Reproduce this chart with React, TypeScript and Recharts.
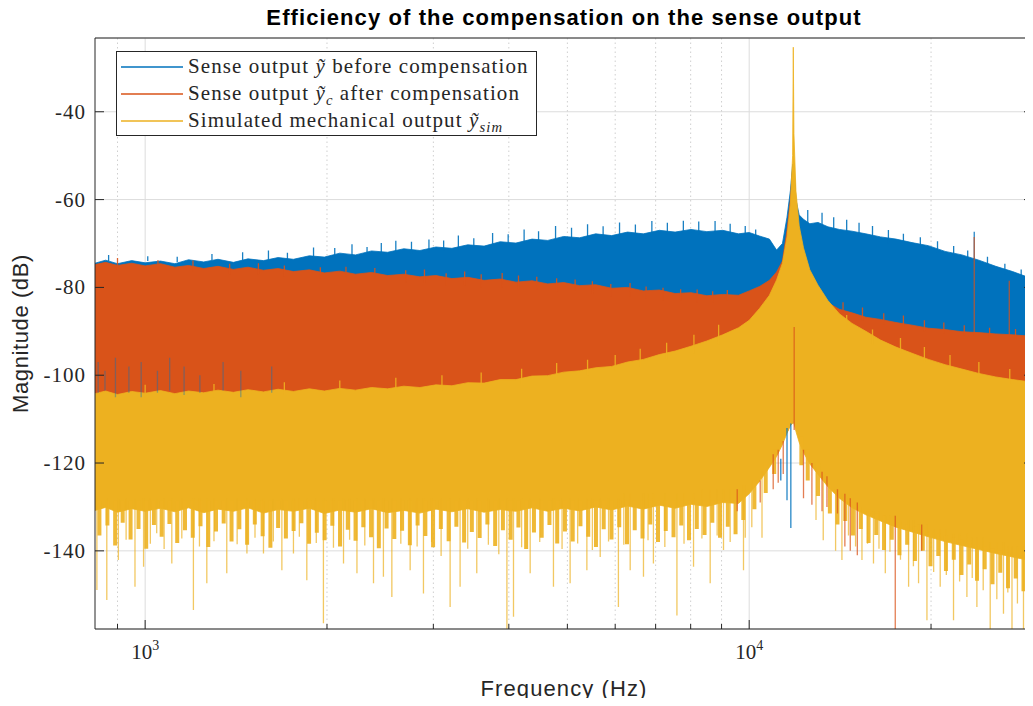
import React from 'react';
import { ComposedChart, Area, Line, XAxis, YAxis, CartesianGrid, Legend, Label, ReferenceLine } from 'recharts';

// frequency grid (Hz) of the envelope bands
const freq = [
  826, 860, 900, 950, 1000,
  1060, 1120, 1180, 1250, 1320,
  1400, 1480, 1570, 1660, 1760,
  1870, 1980, 2100, 2230, 2370,
  2520, 2680, 2850, 3030, 3220,
  3420, 3640, 3870, 4110, 4370,
  4640, 4930, 5240, 5570, 5920,
  6290, 6680, 7100, 7540, 8010,
  8510, 9040, 9600, 10000, 10400,
  10800, 11100, 11350, 11550, 11700,
  11800, 11830, 11860, 11950, 12100,
  12300, 12600, 13000, 13500, 14100,
  14800, 15600, 16500, 17500, 18600,
  19800, 21100, 22500, 24000, 25600,
  27300, 29100, 29500,
];

// sense output before compensation (dB), upper / lower envelope
const blueHi = [
  -74.5, -73.8, -74.6, -73.9, -74.4,
  -74.0, -74.6, -73.7, -74.2, -73.6,
  -74.3, -73.5, -73.9, -73.2, -73.6,
  -72.8, -73.1, -72.2, -72.6, -71.7,
  -72.0, -71.2, -71.6, -70.8, -71.1,
  -70.3, -70.6, -69.6, -69.9, -69.0,
  -69.3, -68.4, -68.7, -67.8, -68.2,
  -67.4, -67.8, -67.0, -67.4, -66.8,
  -67.3, -67.0, -67.8, -67.5, -68.3,
  -69.0, -71.5, -70.0, -64.0, -58.0,
  -52.0, -52.0, -52.0, -60.0, -63.5,
  -64.5, -65.5, -65.2, -66.2, -66.8,
  -67.2, -67.8, -68.5, -69.0, -69.8,
  -70.5, -71.8, -72.6, -73.8, -75.2,
  -76.4, -77.8, -77.6,
];
const blueLo = [
  -105.2, -104.6, -105.6, -104.8, -105.3,
  -104.5, -105.5, -104.9, -105.4, -104.7,
  -105.6, -105.0, -105.8, -105.1, -105.9,
  -105.3, -106.0, -105.4, -106.2, -105.5,
  -106.3, -105.8, -106.5, -105.9, -106.6,
  -106.0, -106.8, -106.2, -107.0, -106.4,
  -107.1, -106.6, -107.3, -106.8, -107.5,
  -107.0, -107.7, -107.2, -107.9, -107.4,
  -108.0, -107.6, -108.4, -110.0, -113.0,
  -115.5, -117.0, -114.0, -113.0, -111.2,
  -110.8, -110.6, -110.8, -112.0, -113.5,
  -115.0, -117.5, -119.0, -121.0, -120.0,
  -118.0, -116.0, -114.0, -112.5, -111.0,
  -110.0, -109.0, -108.0, -107.5, -107.0,
  -106.5, -106.0, -106.0,
];

// sense output after compensation (dB)
const orangeHi = [
  -74.8, -74.3, -75.0, -74.5, -75.1,
  -74.6, -75.4, -75.0, -75.7, -75.2,
  -75.9, -75.4, -76.1, -75.7, -76.4,
  -76.0, -76.7, -76.3, -77.0, -76.6,
  -77.3, -77.0, -77.6, -77.3, -78.0,
  -77.7, -78.4, -78.1, -78.8, -78.5,
  -79.2, -78.9, -79.6, -79.4, -80.2,
  -80.0, -80.8, -80.6, -81.4, -81.2,
  -81.9, -81.6, -81.8, -80.8, -79.8,
  -78.4, -76.5, -74.0, -67.0, -60.0,
  -53.0, -53.0, -53.0, -61.0, -68.0,
  -73.0, -77.5, -80.5, -83.5, -85.0,
  -85.8, -86.8, -87.3, -88.0, -88.6,
  -89.3, -89.6, -90.1, -90.3, -90.6,
  -90.8, -91.1, -91.0,
];
const orangeLo = [
  -108.6, -107.9, -109.2, -108.1, -108.8,
  -107.7, -109.0, -108.3, -108.9, -107.8,
  -108.7, -108.0, -109.1, -108.2, -108.6,
  -107.9, -108.8, -108.1, -108.7, -107.8,
  -108.5, -107.9, -108.6, -107.6, -108.3,
  -107.5, -108.2, -107.4, -108.0, -107.2,
  -107.8, -107.0, -107.6, -106.8, -107.3,
  -106.5, -107.0, -106.2, -106.6, -105.8,
  -106.2, -105.4, -107.0, -110.0, -113.0,
  -115.5, -117.0, -114.0, -113.0, -111.2,
  -110.8, -110.6, -110.8, -112.0, -113.5,
  -115.0, -117.5, -119.0, -121.0, -120.0,
  -118.0, -116.0, -114.0, -112.5, -111.0,
  -110.0, -109.0, -108.0, -107.5, -107.0,
  -106.5, -106.0, -106.0,
];

// simulated mechanical output (dB)
const yellowHi = [
  -104.2, -103.6, -104.4, -103.7, -104.1,
  -103.5, -104.2, -103.6, -104.0, -103.4,
  -103.9, -103.3, -103.8, -103.2, -103.7,
  -103.1, -103.6, -103.0, -103.4, -102.8,
  -103.1, -102.5, -102.8, -102.2, -102.4,
  -101.7, -101.8, -101.0, -101.0, -100.2,
  -100.1, -99.3, -99.0, -98.3, -98.0,
  -97.0, -96.4, -95.3, -94.5, -93.4,
  -92.2, -90.8, -89.2, -87.5, -84.8,
  -81.8, -78.3, -74.5, -68.5, -61.0,
  -50.0, -25.3, -45.0, -58.0, -66.0,
  -71.0, -76.0, -79.5, -83.0, -86.0,
  -88.2, -90.0, -92.0, -93.6, -95.0,
  -96.4, -97.6, -98.6, -99.6, -100.4,
  -101.0, -101.5, -101.4,
];
const yellowLo = [
  -130.8, -130.1, -131.2, -130.4, -131.0,
  -130.3, -131.1, -130.2, -131.3, -130.5,
  -131.0, -130.2, -131.4, -130.6, -131.0,
  -130.3, -131.5, -130.7, -131.2, -130.4,
  -131.3, -130.8, -131.4, -130.5, -131.1,
  -130.4, -131.2, -130.6, -131.0, -130.2,
  -131.0, -130.3, -130.9, -130.0, -130.7,
  -129.8, -130.5, -129.6, -130.3, -129.4,
  -129.9, -129.0, -129.2, -127.0, -124.2,
  -121.0, -118.5, -115.8, -113.2, -111.5,
  -111.0, -110.8, -111.0, -112.8, -115.3,
  -117.6, -120.2, -122.6, -125.4, -128.0,
  -130.2, -131.8, -133.2, -134.6, -135.7,
  -136.8, -137.9, -138.8, -139.7, -140.6,
  -141.4, -142.2, -142.3,
];

// single noise excursions: [frequency (Hz), from dB, to dB]
const blueTopSpikes = [
  [870, -74.0, -72.6], [1010, -74.0, -72.9], [1130, -74.2, -73.0], [1290, -73.8, -72.4], [1450, -73.8, -72.0],
  [1600, -73.7, -71.6], [1720, -73.6, -72.1], [1900, -73.4, -70.9], [2060, -73.2, -71.0], [2200, -73.0, -70.2],
  [2330, -72.8, -70.8], [2460, -72.6, -69.9], [2600, -72.4, -69.4], [2760, -72.2, -69.6], [2950, -72.0, -69.1],
  [3120, -71.6, -69.3], [3300, -71.2, -68.2], [3500, -71.0, -68.8], [3760, -70.6, -67.6], [3990, -70.3, -67.9],
  [4240, -70.0, -66.8], [4480, -69.8, -67.2], [4780, -69.5, -66.0], [5080, -69.2, -66.4], [5400, -69.0, -65.6],
  [5730, -68.7, -66.1], [6100, -68.5, -65.2], [6480, -68.3, -65.7], [6900, -68.0, -64.9], [7320, -68.0, -65.3],
  [7780, -68.0, -64.8], [8250, -68.0, -65.0], [8780, -68.0, -64.9], [9300, -68.5, -65.5], [9850, -69.0, -66.0],
  [10250, -69.5, -66.8], [12500, -66.0, -62.4], [13200, -66.5, -63.0], [13800, -67.0, -64.0], [14500, -68.0, -64.6],
  [15200, -68.5, -65.3], [16000, -69.0, -66.0], [17000, -70.0, -66.9], [18000, -70.5, -67.8], [19200, -71.0, -68.6],
  [20500, -72.0, -69.5], [21800, -73.0, -70.6], [23000, -74.0, -71.6], [24800, -75.5, -73.0], [26500, -77.0, -74.6],
  [28200, -78.0, -75.9],
];
const orangeTopSpikes = [
  [900, -76, -73.3], [1050, -76, -73.8], [1200, -76.5, -73.9], [1380, -77, -74.6], [1540, -77, -74.5],
  [1700, -77.5, -75.0], [1950, -78, -75.4], [2150, -78, -75.3], [2400, -78.5, -75.6], [2700, -79, -76.1],
  [2900, -79, -75.9], [3150, -79.5, -76.8], [3380, -79.5, -76.4], [3600, -80, -77.0], [3900, -80, -76.7],
  [4150, -80.5, -77.3], [4450, -80.5, -77.6], [4800, -81, -77.9], [5150, -81, -78.2], [5500, -81.5, -78.6],
  [5900, -82, -79.2], [6350, -82, -79.0], [6750, -82.5, -79.8], [7200, -83, -80.1], [7700, -83, -80.4],
  [8200, -83.5, -80.5], [8700, -83.5, -80.9], [9200, -83, -80.6], [14300, -86, -83.4], [15400, -87.5, -84.6],
  [16700, -88.5, -85.9], [18000, -89, -86.4], [19500, -90, -87.5], [21000, -90.5, -88.0], [22700, -91, -88.6],
  [25000, -91.5, -89.2], [27600, -92, -89.5],
];
const yellowTopSpikes = [
  [1000, -105, -102.2], [1300, -105, -102.0], [1700, -104.5, -101.6], [2100, -104.5, -101.2], [2600, -104, -100.6],
  [3100, -103.5, -100.0], [3600, -103, -99.4], [4200, -102, -98.5], [4800, -101, -97.2], [5400, -100, -96.5],
  [6000, -99, -95.4], [6600, -98, -94.0], [7300, -96.5, -92.6], [8100, -95, -90.8], [8900, -93, -88.5],
  [14500, -89.5, -86.3], [16000, -93, -89.6], [17800, -95, -91.5], [19500, -97, -93.6], [21500, -99, -95.4],
  [24000, -100.5, -97.0], [27000, -102, -98.6],
];
const yellowFringe = [
  [840, -128.5, -136.5], [866, -128.5, -134.2], [892, -128.5, -138.8], [918, -128.5, -133.6], [946, -128.5, -137.4],
  [975, -128.5, -135.0], [1004, -128.5, -139.5], [1034, -128.5, -134.1], [1065, -128.5, -136.8], [1097, -128.5, -133.9],
  [1130, -128.5, -138.2], [1164, -128.5, -135.3], [1199, -128.5, -137.0], [1235, -128.5, -134.4], [1272, -128.5, -139.1],
  [1310, -128.5, -135.6], [1349, -128.5, -133.8], [1390, -128.5, -137.9], [1432, -128.5, -135.1], [1475, -128.5, -138.6],
  [1519, -128.5, -134.0], [1565, -128.5, -136.7], [1612, -128.5, -139.3], [1660, -128.5, -134.8], [1710, -128.5, -137.2],
  [1761, -128.5, -135.5], [1814, -128.5, -133.7], [1868, -128.5, -138.4], [1924, -128.5, -135.9], [1982, -128.5, -137.6],
  [2041, -128.5, -134.3], [2102, -128.5, -139.0], [2165, -128.5, -135.2], [2230, -128.5, -137.7], [2297, -128.5, -134.6],
  [2366, -128.5, -136.9], [2437, -128.5, -139.4], [2510, -128.5, -134.9], [2585, -128.5, -137.3], [2663, -128.5, -135.4],
  [2743, -128.5, -138.7], [2825, -128.5, -134.2], [2910, -128.5, -136.6], [2997, -128.5, -139.2], [3087, -128.5, -135.0],
  [3180, -128.5, -137.8], [3275, -128.5, -134.5], [3373, -128.5, -138.1], [3474, -128.5, -135.7], [3579, -128.5, -137.1],
  [3686, -128.5, -134.0], [3797, -128.5, -138.9], [3911, -128.5, -135.3], [4028, -128.5, -137.5], [4149, -128.5, -134.7],
  [4273, -128.5, -139.6], [4402, -128.5, -135.8], [4534, -128.5, -137.0], [4670, -128.5, -134.1], [4810, -128.5, -138.3],
  [4954, -128.5, -135.6], [5103, -128.5, -137.9], [5256, -128.5, -134.4], [5414, -128.5, -136.8], [5576, -128.5, -139.1],
  [5743, -128.5, -135.1], [5916, -128.5, -137.4], [6093, -128.5, -134.6], [6276, -128.5, -138.5], [6464, -128.5, -135.3],
  [6658, -128.5, -137.2], [6858, -128.5, -134.0], [7064, -128.5, -138.0], [7276, -128.5, -135.5], [7494, -128.5, -136.9],
  [7719, -128.5, -134.2], [7950, -128.5, -137.6], [8189, -128.5, -135.0], [8435, -128.5, -136.4], [8688, -128.5, -133.6],
  [8948, -128.5, -137.0], [9217, -128.5, -134.5], [9493, -128.5, -136.2], [9778, -127.5, -133.0], [10200, -124, -130.5],
  [10650, -120, -126.8], [11000, -117, -122.5], [12200, -114, -120.5], [12500, -117, -124.0], [13000, -120, -127.5],
  [13600, -125, -131.5], [14000, -126.5, -134.0], [14420, -128, -133.2], [14850, -129, -136.5], [15300, -130, -135.0],
  [15760, -130.5, -138.2], [16230, -131.5, -136.4], [16720, -132, -139.8], [17220, -133, -137.5], [17730, -133.5, -141.0],
  [18260, -134, -138.6], [18810, -134.5, -142.3], [19380, -135, -140.0], [19960, -135.5, -143.5], [20560, -136, -141.2],
  [21170, -136.5, -144.6], [21810, -137, -142.0], [22460, -137.5, -145.5], [23130, -138, -143.1], [23830, -138.5, -146.8],
  [24540, -139, -144.2], [25280, -139.5, -147.6], [26040, -140, -145.0], [26820, -140.5, -148.5], [27620, -141, -146.3],
  [28450, -141.5, -149.2], [29300, -141.5, -147.0],
];
const yellowSpikes = [
  [832, -128, -148.9], [864, -128, -151.2], [903, -128, -142.1], [930, -128, -137.5], [962, -128, -148.2],
  [994, -128, -143.6], [1020, -128, -138.4], [1045, -128, -136.0], [1075, -128, -139.6], [1107, -128, -142.9],
  [1150, -128, -137.2], [1202, -128, -153.5], [1230, -128, -139.0], [1265, -128, -147.4], [1300, -128, -137.8],
  [1365, -128, -145.1], [1420, -128, -138.5], [1474, -128, -140.6], [1520, -128, -137.0], [1570, -128, -140.6],
  [1630, -128, -137.9], [1684, -128, -144.4], [1760, -128, -140.6], [1800, -128, -136.8], [1852, -128, -146.7],
  [1920, -128, -138.2], [1973, -128, -156.5], [2050, -128, -139.3], [2130, -128, -142.9], [2180, -128, -137.5],
  [2242, -128, -145.1], [2310, -128, -138.8], [2388, -128, -147.4], [2480, -128, -145.9], [2561, -128, -150.5],
  [2650, -128, -138.4], [2746, -128, -144.4], [2820, -128, -139.0], [2889, -128, -149.7], [2980, -128, -138.0],
  [3090, -128, -141.2], [3198, -128, -152.8], [3322, -128, -148.2], [3420, -128, -139.5], [3540, -128, -145.1],
  [3700, -128, -138.6], [3850, -128, -140.8], [3971, -128, -157.8], [4072, -128, -155.0], [4200, -128, -139.2],
  [4339, -128, -145.1], [4500, -128, -138.0], [4742, -128, -148.2], [4900, -128, -139.6], [5053, -128, -147.4],
  [5200, -128, -138.3], [5386, -128, -144.4], [5500, -128, -139.8], [5667, -128, -141.4], [5850, -128, -137.9],
  [6074, -128, -152.8], [6200, -127, -138.6], [6353, -127, -144.4], [6683, -127, -145.9], [6800, -127, -137.6],
  [6941, -127, -142.9], [7250, -127, -139.1], [7592, -127, -154.7], [7800, -127, -138.4], [8088, -127, -143.6],
  [8350, -126, -137.2], [8618, -126, -147.4], [8850, -126, -136.5], [9067, -126, -139.8], [9300, -126, -138.0],
  [9785, -125, -144.4], [9850, -125, -137.0], [10100, -124, -134.6], [10500, -122, -137.0],
  [12900, -121, -133.0], [13260, -123, -137.6], [13900, -126, -140.0], [14240, -127, -142.1], [14600, -128, -136.5],
  [15000, -129, -139.0], [15370, -130, -142.1], [15700, -131, -138.4], [16060, -131, -142.9], [16400, -131, -139.5],
  [16800, -132, -145.1], [17100, -132, -140.2], [17800, -133, -142.0], [18360, -133, -148.2], [18700, -133, -143.5],
  [19070, -134, -147.4], [19690, -134, -155.8], [20200, -135, -144.8], [20710, -135, -148.2], [21200, -135, -145.5],
  [21790, -136, -155.8], [22300, -136, -147.0], [22930, -136, -150.5], [23400, -137, -146.2], [23820, -137, -152.8],
  [24400, -137, -149.0], [25060, -138, -157.8], [25700, -138, -151.0], [26360, -138, -154.3], [26800, -139, -149.5],
  [27230, -139, -157.8], [27800, -139, -152.0], [28450, -139, -157.8], [29000, -140, -150.5],
];
const orangeSpikes = [
  [9553, -126, -131], [10429, -124, -129], [10958, -118, -126], [11169, -117, -124.5], [11385, -115, -122.5],
  [11870, -89, -112.5], [12300, -117, -128], [12700, -120, -129.5], [13200, -122, -131], [13450, -123, -130],
  [14000, -126, -131.5], [14400, -127, -139], [14700, -128, -140], [15100, -129, -141], [17450, -132, -157.8],
  [19300, -134, -140], [23580, -91, -68.5], [26950, -91, -78.5],
];
const blueSpikes = [
  [11280, -119, -124], [11550, -112, -128.5], [11720, -111, -134.8], [23580, -76, -67.3],
];
const blueLowSpikes = [
  [836, -97, -104], [858, -99, -103.5], [893, -96, -105], [940, -98, -104], [985, -97, -105], [1048, -99, -104],
  [1098, -96, -103.5], [1160, -98, -104.5], [1232, -100, -104], [1346, -97, -103.5], [1440, -99, -105], [1620, -98, -104],
];

const xTicks = [900, 1000, 2000, 3000, 4000, 5000, 6000, 7000, 8000, 9000, 10000, 20000];
const xMajor = [1000, 10000];
const xMinor = [900, 2000, 3000, 4000, 5000, 6000, 7000, 8000, 9000, 20000];
const yTicks = [-140, -120, -100, -80, -60, -40];

const X_DOMAIN = [826, 29500];
const Y_DOMAIN = [-157.8, -23.2];

const BLUE = '#0072BD';
const ORANGE = '#D95319';
const YELLOW = '#EDB120';
const AXIS = '#262626';
const SERIF = '"Liberation Serif", serif';
const SANS = '"Liberation Sans", Arial, sans-serif';

const legendRows = [
  { color: BLUE, before: 'Sense output ', sub: '', after: ' before compensation' },
  { color: ORANGE, before: 'Sense output ', sub: 'c', after: ' after compensation' },
  { color: YELLOW, before: 'Simulated mechanical output ', sub: 'sim', after: '' },
];

const table = freq.map((f, i) => ({
  f,
  blue: [blueLo[i], blueHi[i]],
  orange: [orangeLo[i], orangeHi[i]],
  yellow: [yellowLo[i], yellowHi[i]],
}));

const spikeRows = (spikes: number[][]) =>
  spikes.flatMap(([f, from, to]) => [{ f, v: from }, { f, v: to }, { f, v: null }]);

const BottomTick = ({ x, y, payload }: any) => {
  const major = xMajor.includes(payload.value);
  return (
    <g>
      <line x1={x} x2={x} y1={y} y2={y - (major ? 9 : 5)} stroke={AXIS} />
      {major && (
        <text x={x} y={y + 30} textAnchor="middle" fontFamily={SERIF} fontSize={21} fill={AXIS}>
          10<tspan dy={-9} fontSize={14}>{Math.round(Math.log10(payload.value))}</tspan>
        </text>
      )}
    </g>
  );
};

const TopTick = ({ x, y, payload }: any) => {
  const major = xMajor.includes(payload.value);
  return <line x1={x} x2={x} y1={y} y2={y + (major ? 9 : 5)} stroke={AXIS} />;
};

const LeftTick = ({ x, y, payload }: any) => (
  <g>
    <line x1={x} x2={x + 9} y1={y} y2={y} stroke={AXIS} />
    <text x={x - 9} y={y + 7} textAnchor="end" fontFamily={SERIF} fontSize={21} letterSpacing={1} fill={AXIS}>
      {payload.value}
    </text>
  </g>
);

const RightTick = ({ x, y }: any) => <line x1={x} x2={x - 9} y1={y} y2={y} stroke={AXIS} />;

const YTitle = ({ viewBox }: any) => {
  const cx = viewBox.x - 66;
  const cy = viewBox.y + viewBox.height / 2;
  return (
    <text x={cx} y={cy} transform={`rotate(-90 ${cx} ${cy})`} textAnchor="middle"
      fontFamily={SANS} fontSize={22} letterSpacing={0.6} fill={AXIS}>
      Magnitude (dB)
    </text>
  );
};

const LegendBox = () => (
  <div style={{
    width: 421, height: 85, boxSizing: 'border-box', border: `1px solid ${AXIS}`, background: '#fff',
    padding: '1px 4px', fontFamily: SERIF, fontSize: 21, letterSpacing: 1.1, color: AXIS,
  }}>
    {legendRows.map((row, i) => (
      <div key={i} style={{ display: 'flex', alignItems: 'center', height: 27 }}>
        <svg width={62} height={6} style={{ flex: 'none' }}>
          <line x1={0} x2={62} y1={3} y2={3} stroke={row.color} strokeWidth={1.5} />
        </svg>
        <span style={{ marginLeft: 5, whiteSpace: 'nowrap' }}>
          {row.before}
          <i>ỹ{row.sub && <sub style={{ fontSize: '0.7em', lineHeight: 0 }}>{row.sub}</sub>}</i>
          {row.after}
        </span>
      </div>
    ))}
  </div>
);

const spikeProps = {
  dataKey: 'v',
  dot: false,
  activeDot: false,
  isAnimationActive: false,
  legendType: 'none' as const,
  strokeWidth: 1.3,
};

export default function App() {
  return (
    <div style={{ width: 1033, height: 706, margin: '-8px 0 -8px -8px', position: 'relative', fontFamily: SANS }}>
      <ComposedChart width={1033} height={706} data={table} margin={{ top: 37, right: -1, bottom: 76, left: 94 }}>
        <CartesianGrid stroke="#dcdcdc" verticalValues={xMajor} />
        {xMinor.map((v) => (
          <ReferenceLine key={v} x={v} zIndex={-50} stroke="#cfcfcf" strokeDasharray="1.5 3" />
        ))}
        <XAxis dataKey="f" type="number" scale="log" domain={X_DOMAIN} allowDataOverflow
          ticks={xTicks} interval={0} height={1} tickSize={0} tickMargin={0} tick={<BottomTick />}
          tickLine={false} axisLine={{ stroke: AXIS }}>
          <Label value="Frequency (Hz)" position="bottom" offset={50} fontFamily={SANS} fontSize={22}
            letterSpacing={1.1} fill={AXIS} />
        </XAxis>
        <XAxis xAxisId="top" orientation="top" type="number" scale="log" domain={X_DOMAIN}
          allowDataOverflow ticks={xTicks} interval={0} height={1} tickSize={0} tickMargin={0}
          tick={<TopTick />} tickLine={false} axisLine={{ stroke: AXIS }}>
          <Label value="Efficiency of the compensation on the sense output" position="top" offset={12}
            fontFamily={SANS} fontWeight="bold" fontSize={22} letterSpacing={1.1} fill="#000" />
        </XAxis>
        <YAxis type="number" domain={Y_DOMAIN} allowDataOverflow ticks={yTicks} interval={0}
          width={1} tickSize={0} tickMargin={0} tick={<LeftTick />} tickLine={false} axisLine={{ stroke: AXIS }}>
          <Label content={<YTitle />} />
        </YAxis>
        <YAxis yAxisId="right" orientation="right" type="number" domain={Y_DOMAIN} allowDataOverflow
          ticks={yTicks} interval={0} width={1} tickSize={0} tickMargin={0} tick={<RightTick />}
          tickLine={false} axisLine={{ stroke: AXIS }} />

        <Area type="linear" dataKey="blue" stroke={BLUE} strokeWidth={0.8} fill={BLUE} fillOpacity={1}
          isAnimationActive={false} legendType="none" />
        <Line {...spikeProps} data={spikeRows(blueTopSpikes)} stroke={BLUE} strokeOpacity={0.9} />
        <Area type="linear" dataKey="orange" stroke={ORANGE} strokeWidth={0.8} fill={ORANGE} fillOpacity={1}
          isAnimationActive={false} legendType="none" />
        <Line {...spikeProps} data={spikeRows(orangeTopSpikes)} stroke={ORANGE} strokeOpacity={0.9} />
        <Area type="linear" dataKey="yellow" stroke={YELLOW} strokeWidth={0.8} fill={YELLOW} fillOpacity={1}
          isAnimationActive={false} legendType="none" />
        <Line {...spikeProps} data={spikeRows(yellowTopSpikes)} stroke={YELLOW} strokeOpacity={0.9} />

        <Line {...spikeProps} data={spikeRows(blueLowSpikes)} stroke={BLUE} strokeOpacity={0.4} />
        <Line {...spikeProps} data={spikeRows(yellowFringe)} stroke={YELLOW} strokeWidth={4} strokeOpacity={0.9} />
        <Line {...spikeProps} data={spikeRows(yellowSpikes)} stroke={YELLOW} strokeOpacity={0.7} />
        <Line {...spikeProps} data={spikeRows(blueSpikes)} stroke={BLUE} strokeOpacity={0.85} />
        <Line {...spikeProps} data={spikeRows(orangeSpikes)} stroke={ORANGE} strokeOpacity={0.75} />

        <Legend layout="horizontal" verticalAlign="middle" align="center" content={<LegendBox />}
          wrapperStyle={{ left: 116, top: 51, width: 421, height: 85 }} />
      </ComposedChart>
    </div>
  );
}
